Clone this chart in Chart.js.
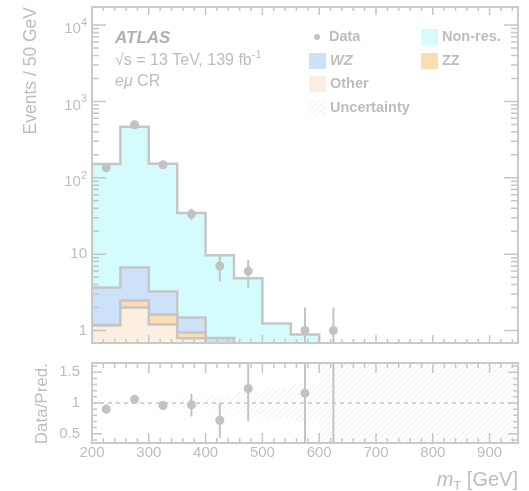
<!DOCTYPE html>
<html>
<head>
<meta charset="utf-8">
<script src="https://cdn.jsdelivr.net/npm/chart.js@4.4.1/dist/chart.umd.min.js"></script>
<style>
html, body { margin: 0; padding: 0; background: #fff; }
#wrap { position: relative; width: 529px; height: 491px; }
#top { position: absolute; left: 0; top: 0; width: 529px; height: 350px; }
#bot { position: absolute; left: 0; top: 350px; width: 529px; height: 141px; }
</style>
</head>
<body>
<div id="wrap">
  <div id="top"><canvas id="mainChart"></canvas></div>
  <div id="bot"><canvas id="ratioChart"></canvas></div>
</div>
<script>
// bin edges (GeV) of the stacked predictions
var edges = [200, 250, 300, 350, 400, 450, 500, 550, 600];
var nonRes = [148, 459, 149, 33, 8.9, 4.45, 0.97, 0.69];
var wz = [2.48, 4.23, 1.62, 0.54, 0.3, 0.2, 0.15, 0.1];
var zz = [0.02, 0.47, 0.42, 0.15, 0.05, 0.03, 0.02, 0.02];
var other = [1.16, 2.0, 1.2, 0.79, 0.45, 0.15, 0.1, 0.08];

// data points
var dataX = [225, 275, 325, 375, 425, 475, 575, 625];
var dataY = [135, 495, 148, 33.5, 7, 6, 1, 1];
var dataErr = [11.6, 22.2, 12.2, 5.8, 2.6, 2.4, 1, 1];

// ratio panel (625 has no prediction, so the ratio is off-scale)
var ratioY = [0.90, 1.06, 0.96, 0.97, 0.72, 1.235, 1.16, 10];
var ratioUp = [0.075, 0.03, 0.07, 0.18, 0.28, 0.6, 1.2, 10];
var ratioDn = [0.075, 0.03, 0.07, 0.19, 0.28, 0.53, 1.16, 10];
var bandEdges = [200, 250, 300, 350, 400, 450, 500, 550, 600, 650, 700, 750, 800, 850, 900, 950];
var bandUnc = [0.05, 0.04, 0.05, 0.07, 0.1, 0.18, 0.25, 0.3, 1, 1, 1, 1, 1, 1, 1];

var logMajor = [1, 10, 100, 1000, 10000];
var ratioTicks = [0.5, 1, 1.5];
var xTicks = [200, 300, 400, 500, 600, 700, 800, 900];

var TEXT = '#bdbdbd';
var LINE = '#c6c6c6';
var FONT = '"Liberation Sans", Arial, sans-serif';

function sum(a, b) { return a.map(function (v, i) { return v + b[i]; }); }
var stOther = other;
var stZZ = sum(stOther, zz);
var stWZ = sum(stZZ, wz);
var stAll = sum(stWZ, nonRes);

function stepPoints(vals, floor) {
    var pts = [{x: edges[0], y: floor}];
    for (var i = 0; i < vals.length; i++) pts.push({x: edges[i], y: vals[i]});
    pts.push({x: edges[vals.length], y: vals[vals.length - 1]});
    pts.push({x: edges[vals.length], y: floor});
    return pts;
}
function bandPoints(sign) {
    var pts = [];
    for (var i = 0; i < bandUnc.length; i++) pts.push({x: bandEdges[i], y: 1 + sign * bandUnc[i]});
    pts.push({x: bandEdges[bandEdges.length - 1], y: 1 + sign * bandUnc[bandUnc.length - 1]});
    return pts;
}

var hatch = (function () {
    var c = document.createElement('canvas');
    c.width = 6; c.height = 6;
    var g = c.getContext('2d');
    g.strokeStyle = '#eeeeee';
    g.lineWidth = 1;
    g.beginPath();
    g.moveTo(0, 6); g.lineTo(6, 0);
    g.moveTo(-1, 1); g.lineTo(1, -1);
    g.moveTo(5, 7); g.lineTo(7, 5);
    g.stroke();
    return g.createPattern(c, 'repeat');
})();

function histSet(pts, fillColor) {
    return {
        data: pts, stepped: 'before', fill: 'start',
        backgroundColor: fillColor, borderColor: LINE, borderWidth: 2.5,
        pointRadius: 0
    };
}

function drawFrame(chart, yMinor, yMajor, xMinorLen, xMajorLen, yMinorLen, yMajorLen) {
    var ctx = chart.ctx, a = chart.chartArea;
    var xs = chart.scales.x, ys = chart.scales.y;
    ctx.save();
    ctx.strokeStyle = LINE;
    ctx.lineWidth = 1.5;
    ctx.beginPath();
    for (var v = 200; v <= 950; v += 20) {
        var px = xs.getPixelForValue(v);
        var len = (v % 100 === 0) ? xMajorLen : xMinorLen;
        ctx.moveTo(px, a.bottom); ctx.lineTo(px, a.bottom - len);
        ctx.moveTo(px, a.top); ctx.lineTo(px, a.top + len);
    }
    yMinor.forEach(function (v) {
        var py = ys.getPixelForValue(v);
        if (py < a.top || py > a.bottom) return;
        ctx.moveTo(a.left, py); ctx.lineTo(a.left + yMinorLen, py);
        ctx.moveTo(a.right, py); ctx.lineTo(a.right - yMinorLen, py);
    });
    yMajor.forEach(function (v) {
        var py = ys.getPixelForValue(v);
        ctx.moveTo(a.left, py); ctx.lineTo(a.left + yMajorLen, py);
        ctx.moveTo(a.right, py); ctx.lineTo(a.right - yMajorLen, py);
    });
    ctx.stroke();
    ctx.lineWidth = 2;
    ctx.strokeStyle = '#cacaca';
    ctx.strokeRect(a.left, a.top, a.right - a.left, a.bottom - a.top);
    ctx.restore();
}

function drawErrors(chart, xs, ys, up, dn) {
    var ctx = chart.ctx, a = chart.chartArea;
    var sx = chart.scales.x, sy = chart.scales.y;
    ctx.save();
    ctx.beginPath();
    ctx.rect(a.left, a.top, a.right - a.left, a.bottom - a.top);
    ctx.clip();
    ctx.strokeStyle = '#c4c4c4';
    ctx.lineWidth = 2;
    ctx.beginPath();
    for (var i = 0; i < xs.length; i++) {
        var px = sx.getPixelForValue(xs[i]);
        var lo = ys[i] - dn[i];
        var y1 = lo > 0 ? sy.getPixelForValue(lo) : a.bottom + 10;
        var y2 = sy.getPixelForValue(ys[i] + up[i]);
        ctx.moveTo(px, y1); ctx.lineTo(px, y2);
    }
    ctx.stroke();
    ctx.restore();
}

var minorLog = [];
[1, 10, 100, 1000, 10000].forEach(function (d) {
    for (var k = 2; k <= 9; k++) minorLog.push(k * d);
});
var minorRatio = [];
for (var r = 4; r <= 16; r++) minorRatio.push(r / 10);

var mainPlugin = {
    id: 'mainDeco',
    beforeDatasetDraw: function (chart, args) {
        if (args.index === 0) drawErrors(chart, dataX, dataY, dataErr, dataErr);
    },
    afterDraw: function (chart) {
        drawFrame(chart, minorLog, logMajor, 4, 8, 7, 14);
        var ctx = chart.ctx, ys = chart.scales.y;
        ctx.save();
        ctx.fillStyle = TEXT;
        ctx.textBaseline = 'middle';
        // log tick labels with superscripts
        logMajor.forEach(function (v, d) {
            var py = ys.getPixelForValue(v);
            if (d < 2) {
                ctx.font = '15px ' + FONT;
                ctx.textAlign = 'right';
                ctx.fillText(String(v), 87, py);
            } else {
                ctx.font = '11px ' + FONT;
                ctx.textAlign = 'right';
                ctx.fillText(String(d), 87, py - 2);
                var w = ctx.measureText(String(d)).width;
                ctx.font = '15px ' + FONT;
                ctx.fillText('10', 87 - w, py + 4);
            }
        });
        // ATLAS label
        ctx.textAlign = 'left';
        ctx.fillStyle = '#b0b0b0';
        ctx.font = 'italic bold 17px ' + FONT;
        ctx.fillText('ATLAS', 115, 38);
        ctx.fillStyle = TEXT;
        ctx.font = '16px ' + FONT;
        var t = '\u221As = 13 TeV, 139 fb';
        ctx.fillText(t, 115, 61);
        var tw = ctx.measureText(t).width;
        ctx.font = '11px ' + FONT;
        ctx.fillText('-1', 115 + tw, 55);
        ctx.font = 'italic 16px ' + FONT;
        ctx.fillText('e\u03bc', 115, 82);
        var ew = ctx.measureText('e\u03bc').width;
        ctx.font = '16px ' + FONT;
        ctx.fillText(' CR', 115 + ew, 82);
        // legend
        ctx.font = 'bold 14.5px ' + FONT;
        ctx.fillStyle = '#c2c2c2';
        ctx.beginPath();
        ctx.arc(317, 37, 3, 0, Math.PI * 2);
        ctx.fill();
        ctx.fillStyle = TEXT;
        ctx.fillText('Data', 329, 37);
        var boxes = [
            [309, 53, '#cde2f8', 'WZ', true],
            [309, 76, '#fdeee2', 'Other', false],
            [309, 100, hatch, 'Uncertainty', false],
            [421, 29, '#d5fcfc', 'Non-res.', false],
            [421, 53, '#fcdcb4', 'ZZ', false]
        ];
        boxes.forEach(function (b) {
            ctx.fillStyle = b[2];
            ctx.fillRect(b[0], b[1], 17, 16);
            ctx.fillStyle = TEXT;
            ctx.font = (b[4] ? 'italic ' : '') + 'bold 14.5px ' + FONT;
            ctx.fillText(b[3], b[0] + 21, b[1] + 8);
        });
        ctx.restore();
    }
};

var ratioPlugin = {
    id: 'ratioDeco',
    beforeDatasetDraw: function (chart, args) {
        if (args.index === 0) drawErrors(chart, dataX, ratioY, ratioUp, ratioDn);
    },
    afterDraw: function (chart) {
        drawFrame(chart, minorRatio, ratioTicks, 5, 10, 5, 10);
        var ctx = chart.ctx;
        ctx.save();
        ctx.fillStyle = TEXT;
        ctx.textBaseline = 'alphabetic';
        ctx.textAlign = 'right';
        ctx.font = '20px ' + FONT;
        var tail = ' [GeV]';
        var tw = ctx.measureText(tail).width;
        ctx.fillText(tail, 518, 136);
        ctx.font = '13px ' + FONT;
        ctx.fillText('T', 518 - tw, 140);
        var sw = ctx.measureText('T').width;
        ctx.font = 'italic 20px ' + FONT;
        ctx.fillText('m', 518 - tw - sw, 136);
        ctx.restore();
    }
};

new Chart(document.getElementById('mainChart'), {
    type: 'line',
    data: {
        datasets: [
            {
                data: dataX.map(function (x, i) { return {x: x, y: dataY[i]}; }),
                showLine: false, pointRadius: 4.5, pointBackgroundColor: '#c2c2c2',
                pointBorderWidth: 0, borderColor: '#c2c2c2'
            },
            histSet(stepPoints(stOther, 0.01), '#fdeee2'),
            histSet(stepPoints(stZZ, 0.01), '#fcdcb4'),
            histSet(stepPoints(stWZ, 0.01), '#cde2f8'),
            histSet(stepPoints(stAll, 0.01), '#d5fcfc')
        ]
    },
    options: {
        responsive: true,
        maintainAspectRatio: false,
        animation: false,
        layout: {padding: {top: 7, right: 11, bottom: 7, left: 0}},
        plugins: {legend: {display: false}, tooltip: {enabled: false}},
        scales: {
            x: {type: 'linear', min: 200, max: 950, display: false},
            y: {
                type: 'logarithmic', min: 0.687, max: 17200,
                grid: {display: false}, border: {display: false},
                ticks: {display: false},
                title: {
                    display: true, text: 'Events / 50 GeV', align: 'end',
                    color: TEXT, font: {family: FONT, size: 17.5},
                    padding: {top: 21, bottom: 0}
                },
                afterFit: function (s) { s.width = 92; }
            }
        }
    },
    plugins: [mainPlugin]
});

new Chart(document.getElementById('ratioChart'), {
    type: 'line',
    data: {
        datasets: [
            {
                data: dataX.map(function (x, i) { return {x: x, y: ratioY[i]}; }),
                showLine: false, pointRadius: 4.5, pointBackgroundColor: '#c2c2c2',
                pointBorderWidth: 0, borderColor: '#c2c2c2'
            },
            {
                data: [{x: 200, y: 1}, {x: 950, y: 1}],
                borderColor: '#c8c8c8', borderWidth: 1.5, borderDash: [4, 4],
                pointRadius: 0, fill: false
            },
            {
                data: bandPoints(1), stepped: 'before', fill: '+1',
                backgroundColor: hatch, borderWidth: 0, pointRadius: 0
            },
            {
                data: bandPoints(-1), stepped: 'before', fill: false,
                borderWidth: 0, pointRadius: 0
            }
        ]
    },
    options: {
        responsive: true,
        maintainAspectRatio: false,
        animation: false,
        layout: {padding: {top: 5, right: 11, bottom: 0, left: 0}},
        plugins: {legend: {display: false}, tooltip: {enabled: false}},
        scales: {
            x: {
                type: 'linear', min: 200, max: 950,
                grid: {display: false}, border: {display: false},
                afterBuildTicks: function (s) { s.ticks = xTicks.map(function (v) { return {value: v}; }); },
                ticks: {
                    color: TEXT, font: {family: FONT, size: 15}, padding: -7,
                    autoSkip: false, maxRotation: 0
                },
                afterFit: function (s) { s.height = 48; }
            },
            y: {
                min: 0.35, max: 1.65,
                grid: {display: false}, border: {display: false},
                afterBuildTicks: function (s) { s.ticks = ratioTicks.map(function (v) { return {value: v}; }); },
                ticks: {
                    color: TEXT, font: {family: FONT, size: 15}, padding: 4,
                    callback: function (v) { return String(v); }
                },
                title: {
                    display: true, text: 'Data/Pred.', align: 'end',
                    color: TEXT, font: {family: FONT, size: 17},
                    padding: {top: 32, bottom: 0}
                },
                afterFit: function (s) { s.width = 92; }
            }
        }
    },
    plugins: [ratioPlugin]
});
</script>
</body>
</html>
